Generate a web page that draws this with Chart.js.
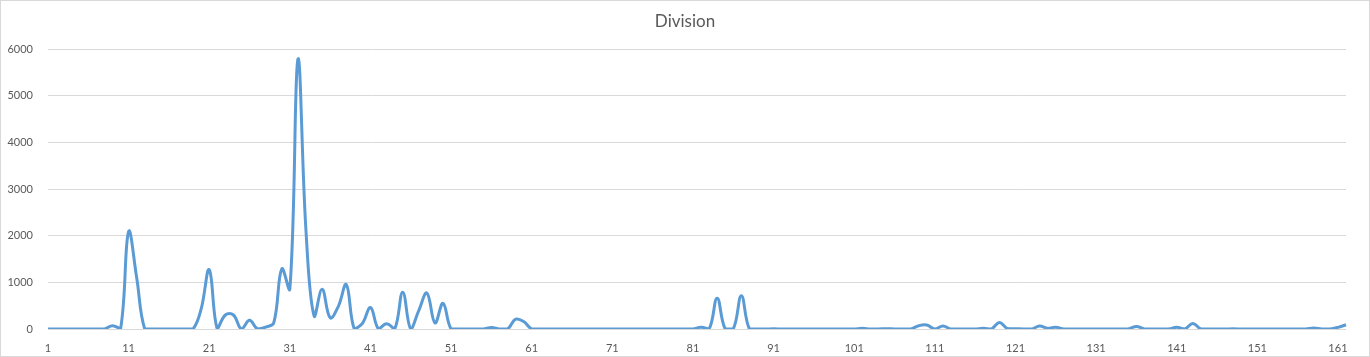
<!DOCTYPE html>
<html>
<head>
<meta charset="utf-8">
<script src="https://cdn.jsdelivr.net/npm/chart.js@4"></script>
<style>
    html, body { margin: 0; padding: 0; background: #fff; }
    #wrap { width: 1370px; height: 357px; position: relative; }
</style>
</head>
<body>
<div id="wrap"><canvas id="chart"></canvas></div>
<script>
// x categories 1..162
const categories = [];
for (let i = 1; i <= 162; i++) categories.push(String(i));

// values, by index 1..162
const divisionValues = [
    0, 0, 0, 0, 0, 0, 0, 0, 70, 0,               // 1-10
    2090, 1100, 0, 0, 0, 0, 0, 0, 0, 430,         // 11-20
    1270, 0, 300, 300, 0, 185, 0, 40, 130, 1290,  // 21-30
    860, 5780, 2100, 280, 850, 240, 480, 950, 0, 120, // 31-40
    460, 0, 110, 0, 790, 0, 400, 770, 130, 550,   // 41-50
    0, 0, 0, 0, 0, 30, 0, 0, 210, 160,            // 51-60
    0, 0, 0, 0, 0, 0, 0, 0, 0, 0,                 // 61-70
    0, 0, 0, 0, 0, 0, 0, 0, 0, 0,                 // 71-80
    0, 40, 0, 660, 0, 0, 710, 0, 0, 0,            // 81-90
    5, 0, 0, 0, 0, 0, 0, 0, 0, 0,                 // 91-100
    0, 15, 0, 0, 8, 0, 0, 0, 70, 85,              // 101-110
    0, 65, 0, 0, 0, 0, 15, 0, 140, 10,            // 111-120
    5, 0, 0, 65, 15, 40, 0, 0, 0, 0,              // 121-130
    0, 0, 0, 0, 0, 55, 0, 0, 0, 0,                // 131-140
    35, 0, 120, 0, 0, 0, 0, 5, 0, 0,              // 141-150
    0, 0, 0, 0, 0, 0, 0, 20, 0, 0,                // 151-160
    35, 90                                        // 161-162
];

const yTicks = [0, 1000, 2000, 3000, 4000, 5000, 6000];

const frame = {
    id: 'frame',
    afterDraw(chart) {
        const c = chart.ctx;
        c.save();
        c.strokeStyle = '#D9D9D9';
        c.lineWidth = 1;
        c.strokeRect(0.5, 0.5, chart.width - 1, chart.height - 1);
        c.restore();
    }
};

new Chart(document.getElementById('chart'), {
    type: 'line',
    data: {
        labels: categories,
        datasets: [{
            label: 'Division',
            data: divisionValues,
            borderColor: '#5B9BD5',
            borderWidth: 3,
            pointRadius: 0,
            tension: 0.4,
            fill: false
        }]
    },
    options: {
        responsive: true,
        maintainAspectRatio: false,
        animation: false,
        layout: { padding: 0 },
        plugins: {
            legend: { display: false },
            tooltip: { enabled: false },
            title: {
                display: true,
                text: 'Division',
                color: '#595959',
                font: { family: 'Lato', size: 17, weight: 'normal' },
                padding: { top: 11, bottom: 17.6 }
            }
        },
        scales: {
            x: {
                offset: false,
                grid: { display: false },
                border: { display: false },
                afterFit(scale) { scale.height = 28; },
                ticks: {
                    autoSkip: false,
                    maxRotation: 0,
                    padding: 5,
                    color: '#595959',
                    font: { family: 'Lato', size: 11 },
                    callback(value, index) {
                        return index % 10 === 0 ? categories[index] : null;
                    }
                }
            },
            y: {
                min: yTicks[0],
                max: yTicks[yTicks.length - 1],
                afterFit(scale) { scale.width = 48; },
                afterBuildTicks(scale) {
                    scale.ticks = yTicks.map(v => ({ value: v }));
                },
                grid: { color: '#D9D9D9', drawTicks: false },
                border: { display: false },
                ticks: {
                    padding: 15,
                    color: '#595959',
                    font: { family: 'Lato', size: 11 },
                    callback(value) { return String(value); }
                }
            },
            // empty right-hand strip so the title stays centred on the canvas
            yr: {
                position: 'right',
                display: true,
                grid: { display: false },
                border: { display: false },
                ticks: { display: false },
                afterFit(scale) { scale.width = 24; }
            }
        }
    },
    plugins: [frame]
});
</script>
</body>
</html>
